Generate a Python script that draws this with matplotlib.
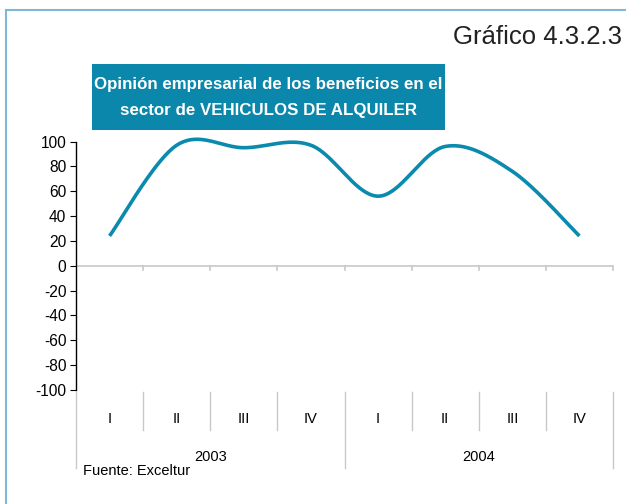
import numpy as np
import matplotlib
matplotlib.use("Agg")
import matplotlib.pyplot as plt
from matplotlib.patches import Rectangle
from matplotlib.lines import Line2D

# Data
years = ["2003", "2004"]
quarters = ["I", "II", "III", "IV"]
values = [24, 97, 95, 97, 56, 96, 76, 24]

LINE_COLOR = "#0a8aad"
BOX_COLOR = "#0a87aa"
GRID_GRAY = "#c8c8c8"

plt.rcParams["font.family"] = ["Liberation Sans", "DejaVu Sans"]
plt.rcParams["axes.unicode_minus"] = False

W, H = 626, 504
fig = plt.figure(figsize=(W / 100, H / 100), dpi=100)


def fx(px):
    return px / W


def fy(py):
    return 1 - py / H


# Outer frame (left and top edges visible)
fig.add_artist(Line2D([fx(6), fx(6)], [fy(10), fy(504)], color="#7fb8d6", lw=1.5))
fig.add_artist(Line2D([fx(6), fx(626)], [fy(10), fy(10)], color="#7fb8d6", lw=1.5))

# Chart number
fig.text(fx(622), fy(37), "Gráfico 4.3.2.3", ha="right", va="center",
         fontsize=18.5, color="#222222")

# Title box
box_l, box_r, box_t, box_b = 92, 445, 64, 130
fig.add_artist(Rectangle((fx(box_l), fy(box_b)), fx(box_r) - fx(box_l), fy(box_t) - fy(box_b),
                         facecolor=BOX_COLOR, edgecolor="none"))
fig.text(fx((box_l + box_r) / 2), fy((box_t + box_b) / 2 + 0.5),
         "Opinión empresarial de los beneficios en el\nsector de VEHICULOS DE ALQUILER",
         ha="center", va="center", fontsize=12.2, color="white", fontweight="bold",
         linespacing=1.95)

# Plot area
left, right, top, bottom = 76, 613, 141.5, 390
ax = fig.add_axes([fx(left), fy(bottom), fx(right) - fx(left), fy(top) - fy(bottom)])
ax.set_xlim(0, len(values))
ax.set_ylim(-100, 100)
for s in ["top", "right", "bottom"]:
    ax.spines[s].set_visible(False)
ax.spines["left"].set_color("black")
ax.spines["left"].set_linewidth(1.0)
ax.set_yticks(np.arange(-100, 101, 20))
ax.tick_params(axis="y", direction="out", length=4, width=0.8, labelsize=11.2, pad=3)
ax.set_xticks([])

# Zero line with quarter ticks
ax.axhline(0, color=GRID_GRAY, lw=1.2, zorder=1)
for i in range(1, len(values) + 1):
    ax.plot([i, i], [0, -3.5], color=GRID_GRAY, lw=1.2, zorder=1, clip_on=False)


# Smoothed line (Bezier smoothing through the points)
def smooth(xs, ys, n=40):
    xs = np.asarray(xs, float)
    ys = np.asarray(ys, float)
    px = np.concatenate([[xs[0]], xs, [xs[-1]]])
    py = np.concatenate([[ys[0]], ys, [ys[-1]]])
    outx, outy = [], []
    t = np.linspace(0, 1, n)
    for k in range(1, len(px) - 2):
        p0 = np.array([px[k], py[k]])
        p3 = np.array([px[k + 1], py[k + 1]])
        p1 = p0 + (np.array([px[k + 1], py[k + 1]]) - np.array([px[k - 1], py[k - 1]])) / 6
        p2 = p3 - (np.array([px[k + 2], py[k + 2]]) - np.array([px[k], py[k]])) / 6
        b = ((1 - t) ** 3)[:, None] * p0 + (3 * (1 - t) ** 2 * t)[:, None] * p1 \
            + (3 * (1 - t) * t ** 2)[:, None] * p2 + (t ** 3)[:, None] * p3
        outx.extend(b[:, 0])
        outy.extend(b[:, 1])
    return np.array(outx), np.array(outy)


xs = np.arange(len(values)) + 0.5
sx, sy = smooth(xs, values)
ax.plot(sx, sy, color=LINE_COLOR, lw=2.6, solid_capstyle="butt", zorder=3, clip_on=False)

# Category axis below the plot
trans = ax.get_xaxis_transform()


def ax_y(py):
    return (bottom - py) / (bottom - top)


n = len(values)
for i in range(n + 1):
    y_end = ax_y(468) if i % 4 == 0 else ax_y(430)
    ax.add_line(Line2D([i, i], [ax_y(392), y_end], transform=trans, color=GRID_GRAY,
                       lw=1.0, clip_on=False))

for i in range(n):
    ax.text(i + 0.5, ax_y(419), quarters[i % 4], transform=trans, ha="center",
            va="center", fontsize=10.5, clip_on=False)
for j, yr in enumerate(years):
    ax.text(j * 4 + 2, ax_y(457), yr, transform=trans, ha="center", va="center",
            fontsize=10.5, clip_on=False)

fig.text(fx(83), fy(471), "Fuente: Exceltur", ha="left", va="center", fontsize=10.5)

fig.savefig("out.png", dpi=100)
